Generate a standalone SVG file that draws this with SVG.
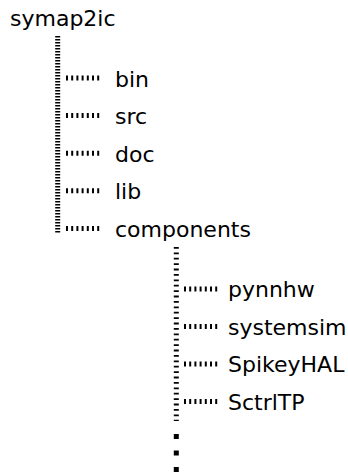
<svg xmlns="http://www.w3.org/2000/svg" width="348" height="472" viewBox="0 0 348 472">
  <style>
    .label { font-family: "DejaVu Sans", "Liberation Sans", sans-serif; font-size: 22px; fill: #000; }
    .trunk { stroke: #000; stroke-width: 5; stroke-dasharray: 1.6 1.4; fill: none; }
    .trunk2 { stroke: #000; stroke-width: 5; stroke-dasharray: 1.8 3.6; fill: none; }
    .branch { stroke: #000; stroke-width: 5; stroke-dasharray: 2 3.2; fill: none; }
    .loose { stroke: #000; stroke-width: 5; stroke-dasharray: 5 11.5; fill: none; }
  </style>
  <rect width="348" height="472" fill="#fff"/>

  <g id="connectors">
    <!-- top-level trunk -->
    <line class="trunk" x1="57.7" y1="36" x2="57.7" y2="233"/>
    <line class="branch" x1="66" y1="78" x2="102" y2="78"/>
    <line class="branch" x1="66" y1="115.6" x2="102" y2="115.6"/>
    <line class="branch" x1="66" y1="153.2" x2="102" y2="153.2"/>
    <line class="branch" x1="66" y1="190.8" x2="102" y2="190.8"/>
    <line class="branch" x1="66" y1="228.4" x2="102" y2="228.4"/>
    <!-- components trunk -->
    <line class="trunk2" x1="176.3" y1="247" x2="176.3" y2="421"/>
    <line class="loose" x1="176.3" y1="434" x2="176.3" y2="480"/>
    <line class="branch" x1="184" y1="289" x2="220" y2="289"/>
    <line class="branch" x1="184" y1="326.5" x2="220" y2="326.5"/>
    <line class="branch" x1="184" y1="364" x2="220" y2="364"/>
    <line class="branch" x1="184" y1="401.5" x2="220" y2="401.5"/>
  </g>

  <g id="symap2ic"><text class="label" x="10" y="26">symap2ic</text></g>
  <g id="bin"><text class="label" x="115" y="86.5">bin</text></g>
  <g id="src"><text class="label" x="115" y="124.1">src</text></g>
  <g id="doc"><text class="label" x="115" y="161.7">doc</text></g>
  <g id="lib"><text class="label" x="115" y="199.3">lib</text></g>
  <g id="components"><text class="label" x="115" y="236.9">components</text></g>
  <g id="pynnhw"><text class="label" x="228" y="297">pynnhw</text></g>
  <g id="systemsim"><text class="label" x="228" y="334.5">systemsim</text></g>
  <g id="SpikeyHAL"><text class="label" x="228" y="372">SpikeyHAL</text></g>
  <g id="SctrlTP"><text class="label" x="228" y="409.5">SctrlTP</text></g>
</svg>
